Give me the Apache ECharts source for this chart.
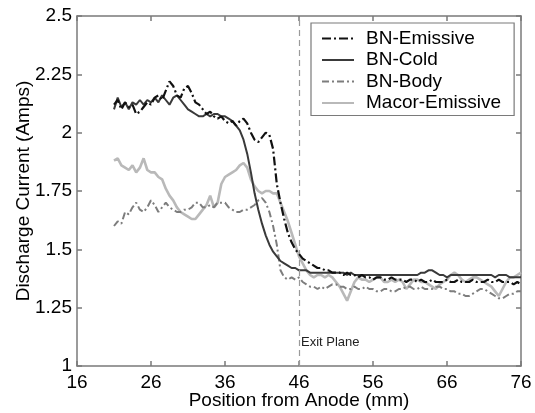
<!DOCTYPE html>
<html>
<head>
<meta charset="utf-8">
<script src="https://cdn.jsdelivr.net/npm/echarts@6/dist/echarts.min.js"></script>
<style>
html,body{margin:0;padding:0;background:#fff;}
#chart{width:535px;height:413px;}
</style>
</head>
<body>
<div id="chart"></div>
<script>
// Position from anode (mm)
const positions = [
  21,21.5,22,22.5,23,23.5,24,24.5,25,25.5,
  26,26.5,27,27.5,28,28.5,29,29.5,30,30.5,
  31,31.5,32,32.5,33,33.5,34,34.5,35,35.5,
  36,36.5,37,37.5,38,38.5,39,39.5,40,40.5,
  41,41.5,42,42.5,43,43.5,44,44.5,45,45.5,
  46,46.5,47,47.5,48,48.5,49,49.5,50,50.5,
  51,51.5,52,52.5,53,53.5,54,54.5,55,55.5,
  56,56.5,57,57.5,58,58.5,59,59.5,60,60.5,
  61,61.5,62,62.5,63,63.5,64,64.5,65,65.5,
  66,66.5,67,67.5,68,68.5,69,69.5,70,70.5,
  71,71.5,72,72.5,73,73.5,74,74.5,75,75.5,
  76
];
const bnEmissive = [
  2.12,2.14,2.10,2.13,2.11,2.12,2.08,2.09,2.11,2.13,
  2.12,2.15,2.16,2.14,2.18,2.22,2.20,2.16,2.15,2.19,
  2.20,2.17,2.13,2.12,2.10,2.08,2.09,2.07,2.06,2.07,
  2.05,2.04,2.05,2.03,2.05,2.06,2.04,2.00,1.97,1.96,
  1.98,2.00,1.99,1.93,1.78,1.70,1.63,1.57,1.53,1.50,
  1.48,1.46,1.45,1.44,1.43,1.42,1.42,1.41,1.41,1.40,
  1.40,1.40,1.39,1.40,1.39,1.39,1.38,1.39,1.38,1.38,
  1.37,1.38,1.38,1.37,1.37,1.38,1.37,1.37,1.37,1.36,
  1.37,1.37,1.36,1.37,1.36,1.36,1.37,1.36,1.36,1.36,
  1.37,1.36,1.36,1.37,1.36,1.36,1.36,1.37,1.36,1.36,
  1.36,1.37,1.36,1.36,1.37,1.36,1.36,1.36,1.35,1.36,
  1.35
];
const bnCold = [
  2.10,2.15,2.11,2.13,2.10,2.13,2.12,2.14,2.12,2.14,
  2.13,2.15,2.13,2.16,2.14,2.12,2.15,2.16,2.14,2.12,
  2.10,2.09,2.08,2.07,2.07,2.08,2.07,2.08,2.08,2.07,
  2.07,2.06,2.05,2.03,2.01,1.97,1.91,1.83,1.74,1.67,
  1.61,1.56,1.52,1.49,1.47,1.45,1.44,1.43,1.42,1.42,
  1.41,1.41,1.41,1.40,1.40,1.40,1.40,1.40,1.40,1.40,
  1.40,1.40,1.40,1.39,1.40,1.39,1.39,1.39,1.39,1.39,
  1.39,1.39,1.39,1.39,1.39,1.39,1.39,1.39,1.39,1.39,
  1.39,1.39,1.39,1.40,1.40,1.41,1.41,1.40,1.39,1.39,
  1.38,1.39,1.39,1.39,1.39,1.39,1.39,1.39,1.39,1.39,
  1.39,1.39,1.39,1.38,1.39,1.39,1.39,1.38,1.38,1.38,
  1.38
];
const bnBody = [
  1.60,1.62,1.61,1.66,1.65,1.68,1.70,1.67,1.66,1.68,
  1.71,1.69,1.66,1.68,1.70,1.68,1.67,1.66,1.66,1.67,
  1.67,1.68,1.70,1.70,1.68,1.68,1.69,1.68,1.70,1.70,
  1.70,1.68,1.67,1.66,1.66,1.67,1.67,1.68,1.69,1.71,
  1.72,1.70,1.66,1.60,1.52,1.41,1.38,1.37,1.38,1.37,
  1.38,1.36,1.35,1.34,1.34,1.33,1.34,1.33,1.34,1.35,
  1.35,1.34,1.34,1.33,1.33,1.34,1.33,1.33,1.34,1.33,
  1.33,1.32,1.32,1.33,1.33,1.32,1.32,1.33,1.33,1.34,
  1.34,1.33,1.33,1.34,1.33,1.33,1.33,1.34,1.34,1.33,
  1.33,1.32,1.32,1.31,1.31,1.30,1.30,1.31,1.32,1.33,
  1.33,1.32,1.31,1.30,1.29,1.29,1.30,1.31,1.31,1.32,
  1.32
];
const macorEmissive = [
  1.88,1.89,1.86,1.85,1.84,1.86,1.83,1.85,1.89,1.84,
  1.83,1.83,1.81,1.80,1.76,1.73,1.71,1.68,1.66,1.65,
  1.64,1.63,1.63,1.65,1.67,1.69,1.73,1.68,1.70,1.78,
  1.81,1.82,1.83,1.84,1.86,1.87,1.85,1.80,1.77,1.75,
  1.74,1.75,1.75,1.74,1.74,1.70,1.66,1.62,1.57,1.52,
  1.47,1.44,1.41,1.39,1.38,1.39,1.39,1.38,1.39,1.38,
  1.36,1.34,1.31,1.28,1.32,1.36,1.38,1.37,1.37,1.36,
  1.37,1.38,1.38,1.36,1.36,1.37,1.36,1.37,1.36,1.33,
  1.35,1.37,1.37,1.36,1.36,1.35,1.34,1.33,1.35,1.36,
  1.37,1.39,1.40,1.39,1.37,1.36,1.37,1.38,1.38,1.37,
  1.36,1.35,1.34,1.32,1.30,1.33,1.36,1.38,1.38,1.39,
  1.40
];
const xTicks = [16,26,36,46,56,66,76];
const exitPlane = 46;
const exitLabel = 'Exit Plane';
const seriesNames = ['BN-Emissive','BN-Cold','BN-Body','Macor-Emissive'];

const FONT = "'Liberation Sans', Arial, sans-serif";
function pairs(ys){ return positions.map((x,i)=>[x, ys[i]]); }

const chart = echarts.init(document.getElementById('chart'), null, {renderer:'canvas'});
const axisLineStyle = {color:'#7a7a7a', width:1.5};
const option = {
  animation:false,
  backgroundColor:'#fff',
  grid:{left:77, right:14, top:16, bottom:47, containLabel:false, outerBoundsMode:'none'},
  legend:{
    data:seriesNames,
    orient:'vertical',
    left:311, top:23,
    padding:[6,13,3,10],
    itemWidth:32, itemHeight:14, itemGap:2.5,
    itemStyle:{opacity:0},
    backgroundColor:'#fff',
    borderColor:'#7a7a7a', borderWidth:1.2, borderRadius:0,
    textStyle:{fontFamily:FONT, fontSize:19, color:'#000', padding:[0,0,0,7]}
  },
  xAxis:[{
    type:'value', min:16, max:76, position:'bottom',
    axisLine:{show:true, lineStyle:axisLineStyle},
    axisTick:{show:true, inside:true, length:5, lineStyle:axisLineStyle, customValues:xTicks},
    axisLabel:{show:true, color:'#000', fontFamily:FONT, fontSize:19, margin:7, customValues:xTicks},
    splitLine:{show:false},
    name:'Position from Anode (mm)', nameLocation:'middle', nameGap:25, nameMoveOverlap:false,
    nameTextStyle:{color:'#000', fontFamily:FONT, fontSize:19}
  },{
    type:'value', min:16, max:76, position:'top',
    axisLine:{show:true, lineStyle:axisLineStyle},
    axisTick:{show:true, inside:true, length:5, lineStyle:axisLineStyle, customValues:xTicks},
    axisLabel:{show:false}, splitLine:{show:false}
  }],
  yAxis:[{
    type:'value', min:1, max:2.5, interval:0.25, position:'left',
    axisLine:{show:true, lineStyle:axisLineStyle},
    axisTick:{show:true, inside:true, length:5, lineStyle:axisLineStyle},
    axisLabel:{show:true, color:'#000', fontFamily:FONT, fontSize:19, margin:5},
    splitLine:{show:false},
    name:'Discharge Current (Amps)', nameLocation:'middle', nameGap:44, nameMoveOverlap:false,
    nameTextStyle:{color:'#000', fontFamily:FONT, fontSize:19}
  },{
    type:'value', min:1, max:2.5, interval:0.25, position:'right',
    axisLine:{show:true, lineStyle:axisLineStyle},
    axisTick:{show:true, inside:true, length:5, lineStyle:axisLineStyle},
    axisLabel:{show:false}, splitLine:{show:false}
  }],
  series:[
    {name:'BN-Emissive', type:'line', data:pairs(bnEmissive), symbol:'none', z:5,
     lineStyle:{color:'#111', width:2.2, type:[9,3,2,3]}, itemStyle:{color:'#111'},
     markLine:{silent:true, symbol:'none', label:{show:false},
       lineStyle:{color:'#9a9a9a', width:1.2, type:[6,4]},
       data:[{xAxis:exitPlane}]},
     markPoint:{silent:true, symbol:'circle', symbolSize:0,
       data:[{coord:[exitPlane,1.099], value:exitLabel}],
       label:{show:true, position:'right', distance:2, formatter:exitLabel,
         color:'#222', fontFamily:FONT, fontSize:13}}
    },
    {name:'BN-Cold', type:'line', data:pairs(bnCold), symbol:'none', z:4,
     lineStyle:{color:'#3a3a3a', width:2}, itemStyle:{color:'#3a3a3a'}},
    {name:'BN-Body', type:'line', data:pairs(bnBody), symbol:'none', z:3,
     lineStyle:{color:'#7d7d7d', width:2, type:[7,3,2,3]}, itemStyle:{color:'#7d7d7d'}},
    {name:'Macor-Emissive', type:'line', data:pairs(macorEmissive), symbol:'none', z:2,
     lineStyle:{color:'#b9b9b9', width:2.6}, itemStyle:{color:'#b9b9b9'}}
  ]
};
chart.setOption(option);
</script>
</body>
</html>
